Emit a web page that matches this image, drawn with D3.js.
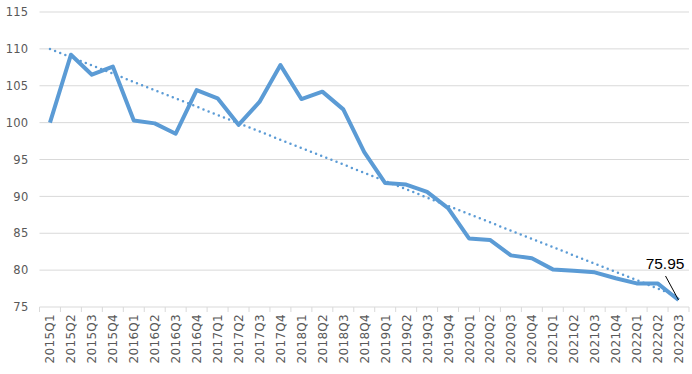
<!DOCTYPE html>
<html>
<head>
<meta charset="utf-8">
<script src="https://cdn.jsdelivr.net/npm/d3@7"></script>
<style>
  body { margin: 0; background: #fff; }
</style>
</head>
<body>
<div id="chart"></div>
<script>
// quarters on the x axis
const quarters = ["2015Q1","2015Q2","2015Q3","2015Q4","2016Q1","2016Q2","2016Q3","2016Q4",
  "2017Q1","2017Q2","2017Q3","2017Q4","2018Q1","2018Q2","2018Q3","2018Q4",
  "2019Q1","2019Q2","2019Q3","2019Q4","2020Q1","2020Q2","2020Q3","2020Q4",
  "2021Q1","2021Q2","2021Q3","2021Q4","2022Q1","2022Q2","2022Q3"];

// index values
const values = [100.0,109.2,106.5,107.6,100.3,99.9,98.5,104.4,
  103.3,99.7,102.8,107.8,103.2,104.2,101.8,96.0,
  91.8,91.6,90.6,88.4,84.3,84.1,82.0,81.6,
  80.1,79.9,79.7,78.9,78.2,78.2,75.95];

// dotted trend line, start and end values
const trendQuarters = ["2015Q1","2022Q3"];
const trendValues = [110.0, 76.4];

const yTicks = [75,80,85,90,95,100,105,110,115];
const lastLabel = "75.95";

var margin = {top: 12, right: 3, bottom: 67, left: 39.5},
  width = 692 - margin.left - margin.right,
  height = 374 - margin.top - margin.bottom;

var svg = d3.select("#chart")
  .append("svg")
  .attr("width", 692)
  .attr("height", 374)
  .append("g")
  .attr("transform", "translate(" + margin.left + "," + margin.top + ")");

var x = d3.scaleBand().domain(quarters).range([0, width]);
var y = d3.scaleLinear().domain([75, 115]).range([height, 0]);
const cx = q => x(q) + x.bandwidth() / 2;

// gridlines
svg.selectAll(".grid")
  .data(yTicks.filter(d => d > 75))
  .enter().append("line")
  .attr("x1", 0).attr("x2", width)
  .attr("y1", d => y(d)).attr("y2", d => y(d))
  .attr("stroke", "#d9d9d9").attr("stroke-width", 1);

// y labels
svg.selectAll(".ylab")
  .data(yTicks)
  .enter().append("text")
  .attr("x", -11)
  .attr("y", d => y(d))
  .attr("dy", "0.36em")
  .attr("text-anchor", "end")
  .attr("font-family", "DejaVu Sans")
  .attr("font-size", 11.5)
  .attr("letter-spacing", 0.3)
  .attr("fill", "#595959")
  .text(d => d);

// x axis
var xAxis = svg.append("g")
  .attr("transform", "translate(0," + height + ")");
xAxis.append("line")
  .attr("x1", 0).attr("x2", width)
  .attr("stroke", "#d9d9d9");
xAxis.selectAll(".tick")
  .data(quarters.concat(["end"]))
  .enter().append("line")
  .attr("x1", (d, i) => i * x.step()).attr("x2", (d, i) => i * x.step())
  .attr("y1", 0).attr("y2", 5)
  .attr("stroke", "#d9d9d9");
xAxis.selectAll(".xlab")
  .data(quarters)
  .enter().append("text")
  .attr("transform", d => "translate(" + (cx(d) + 4.5) + ",7) rotate(-90)")
  .attr("text-anchor", "end")
  .attr("font-family", "DejaVu Sans")
  .attr("font-size", 12)
  .attr("letter-spacing", 0.3)
  .attr("fill", "#595959")
  .text(d => d);

// main line
var line = d3.line()
  .x((d, i) => cx(quarters[i]))
  .y(d => y(d));

svg.append("path")
  .datum(values)
  .attr("fill", "none")
  .attr("stroke", "#5b9bd5")
  .attr("stroke-width", 4)
  .attr("stroke-linejoin", "round")
  .attr("d", line);

// trend line
svg.append("line")
  .attr("x1", cx(trendQuarters[0])).attr("y1", y(trendValues[0]))
  .attr("x2", cx(trendQuarters[1])).attr("y2", y(trendValues[1]))
  .attr("stroke", "#5b9bd5")
  .attr("stroke-width", 2.5)
  .attr("stroke-linecap", "round")
  .attr("stroke-dasharray", "0,5.5");

// last value callout
const lastQ = quarters[quarters.length - 1];
const lastV = values[values.length - 1];
svg.append("line")
  .attr("x1", cx(lastQ) - 13).attr("y1", y(lastV) - 24)
  .attr("x2", cx(lastQ)).attr("y2", y(lastV))
  .attr("stroke", "#000").attr("stroke-width", 1);
svg.append("text")
  .attr("x", cx(lastQ) - 13.5)
  .attr("y", y(lastV) - 31)
  .attr("text-anchor", "middle")
  .attr("font-family", "Liberation Sans")
  .attr("font-size", 15.5)
  .attr("fill", "#000")
  .text(lastLabel);
</script>
</body>
</html>
